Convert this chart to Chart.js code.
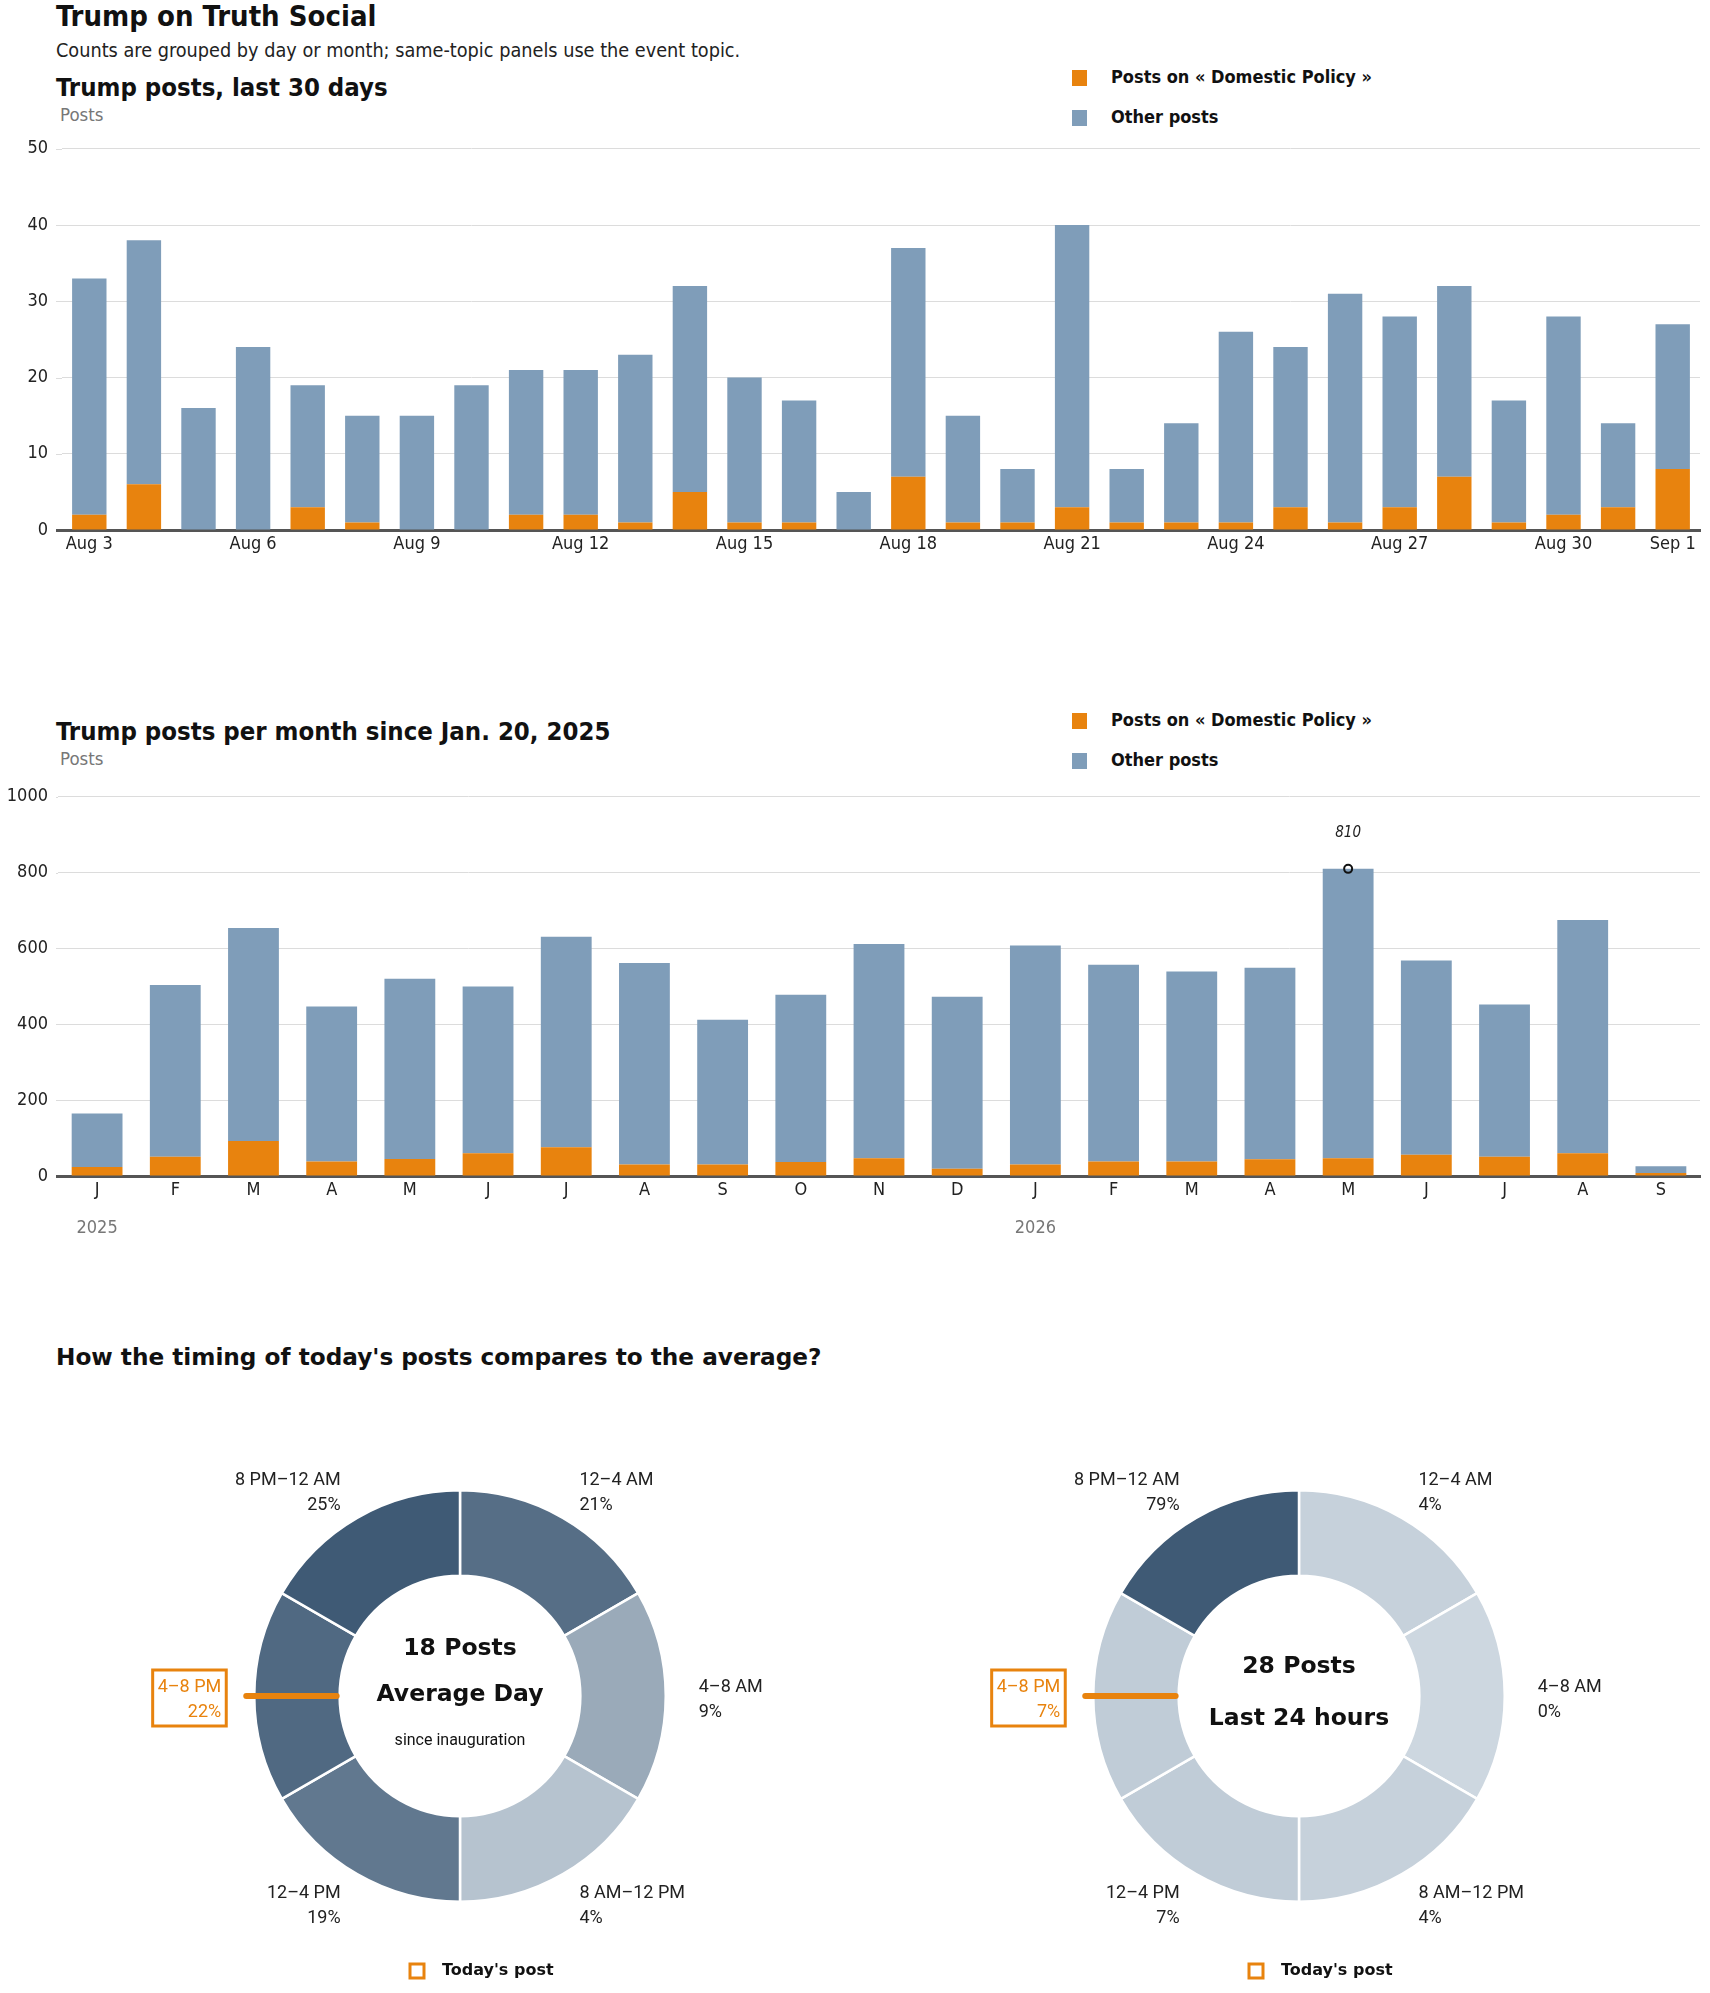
<!DOCTYPE html>
<html>
<head>
<meta charset="utf-8">
<script src="https://cdn.jsdelivr.net/npm/chart.js@4.4.1/dist/chart.umd.min.js"></script>
<style>
  body { margin: 0; background: #fff; width: 1710px; height: 1993px; position: relative; overflow: hidden; }
  .t { position: absolute; white-space: nowrap; color: #111; }
  .narrow { font-family: 'Liberation Sans Narrow', 'DejaVu Sans Condensed', 'Arial Narrow', sans-serif; }
  .heavy { font-family: 'DejaVu Sans', Lato, sans-serif; font-weight: bold; }
  canvas { position: absolute; }
  .sw { position: absolute; width: 15px; height: 16px; }
</style>
</head>
<body>

<div class="t narrow" style="left:56px; top:0px; font-size:29px; font-weight:bold; line-height:32px;">Trump on Truth Social</div>
<div class="t narrow" style="left:56px; top:39px; font-size:19.7px; line-height:24px; color:#222;">Counts are grouped by day or month; same-topic panels use the event topic.</div>

<div class="t narrow" style="left:56px; top:72px; font-size:25.5px; font-weight:bold; line-height:30px;">Trump posts, last 30 days</div>
<div class="t narrow" style="left:60px; top:104px; font-size:18.5px; line-height:22px; color:#777;">Posts</div>
<div class="sw" style="left:1072px; top:70px; background:#e8830e;"></div>
<div class="t narrow" style="left:1111px; top:66px; font-size:18px; font-weight:bold; line-height:22px;">Posts on « Domestic Policy »</div>
<div class="sw" style="left:1072px; top:110px; background:#7f9db9;"></div>
<div class="t narrow" style="left:1111px; top:106px; font-size:18px; font-weight:bold; line-height:22px;">Other posts</div>
<canvas id="daily" width="1710" height="446" style="left:0; top:124px; width:1710px; height:446px;"></canvas>

<div class="t narrow" style="left:56px; top:716px; font-size:25.5px; font-weight:bold; line-height:30px;">Trump posts per month since Jan. 20, 2025</div>
<div class="t narrow" style="left:60px; top:748px; font-size:18.5px; line-height:22px; color:#777;">Posts</div>
<div class="sw" style="left:1072px; top:713px; background:#e8830e;"></div>
<div class="t narrow" style="left:1111px; top:709px; font-size:18px; font-weight:bold; line-height:22px;">Posts on « Domestic Policy »</div>
<div class="sw" style="left:1072px; top:753px; background:#7f9db9;"></div>
<div class="t narrow" style="left:1111px; top:749px; font-size:18px; font-weight:bold; line-height:22px;">Other posts</div>
<canvas id="monthly" width="1710" height="473" style="left:0; top:776px; width:1710px; height:473px;"></canvas>

<div class="t heavy" style="left:56px; top:1343px; font-size:23.2px; line-height:28px;">How the timing of today's posts compares to the average?</div>
<canvas id="avgDonut" width="840" height="600" style="left:40px; top:1393px; width:840px; height:600px;"></canvas>
<canvas id="todayDonut" width="840" height="600" style="left:879px; top:1393px; width:840px; height:600px;"></canvas>

<script>
// ---- data ----
const days = ['Aug 3', 'Aug 4', 'Aug 5', 'Aug 6', 'Aug 7', 'Aug 8', 'Aug 9', 'Aug 10', 'Aug 11', 'Aug 12',
  'Aug 13', 'Aug 14', 'Aug 15', 'Aug 16', 'Aug 17', 'Aug 18', 'Aug 19', 'Aug 20', 'Aug 21', 'Aug 22',
  'Aug 23', 'Aug 24', 'Aug 25', 'Aug 26', 'Aug 27', 'Aug 28', 'Aug 29', 'Aug 30', 'Aug 31', 'Sep 1'];
const dailyDomestic = [2, 6, 0, 0, 3, 1, 0, 0, 2, 2, 1, 5, 1, 1, 0, 7, 1, 1, 3, 1, 1, 1, 3, 1, 3, 7, 1, 2, 3, 8];
const dailyOther = [31, 32, 16, 24, 16, 14, 15, 19, 19, 19, 22, 27, 19, 16, 5, 30, 14, 7, 37, 7, 13, 25, 21, 30, 25, 25, 16, 26, 11, 19];
const dailyTicks = [0, 10, 20, 30, 40, 50];

const months = ['J', 'F', 'M', 'A', 'M', 'J', 'J', 'A', 'S', 'O', 'N', 'D',
  'J', 'F', 'M', 'A', 'M', 'J', 'J', 'A', 'S'];
const monthDomestic = [24, 51, 92, 38, 45, 60, 76, 30, 30, 37, 47, 19, 30, 38, 38, 44, 47, 56, 51, 60, 8];
const monthOther = [141, 453, 562, 409, 475, 440, 555, 532, 382, 441, 565, 454, 578, 519, 501, 505, 763, 512, 401, 615, 18];
const monthTicks = [0, 200, 400, 600, 800, 1000];
const yearLabels = ['2025', '2026'];
const yearStartIndex = [0, 12];

const slots = ['12–4 AM', '4–8 AM', '8 AM–12 PM', '12–4 PM', '4–8 PM', '8 PM–12 AM'];
const slotSize = [1, 1, 1, 1, 1, 1];
const avgShare = [21, 9, 4, 19, 22, 25];
const todayShare = [4, 0, 4, 7, 7, 79];
const currentSlot = 4;

// ---- style ----
const NARROW = "'Liberation Sans Narrow', 'DejaVu Sans Condensed', 'Arial Narrow', sans-serif";
const HEAVY = "'DejaVu Sans', Lato, sans-serif";
const PLAIN = "Roboto, 'Liberation Sans', sans-serif";
const ORANGE = '#e8830e';
const BLUE = '#7f9db9';
const GRID = '#dcdcdc';
const PLOT_LEFT = 56;

// prolonga las líneas de la rejilla y el eje hasta el borde izquierdo
const gridLead = {
  id: 'gridLead',
  beforeDatasetsDraw(chart) {
    const { ctx, chartArea, scales: { y } } = chart;
    if (chartArea.left <= PLOT_LEFT) return;
    ctx.save();
    ctx.lineWidth = 1;
    ctx.strokeStyle = GRID;
    y.ticks.forEach(t => {
      if (t.value === 0) return;
      const py = Math.round(y.getPixelForValue(t.value)) + 0.5;
      ctx.beginPath(); ctx.moveTo(PLOT_LEFT, py); ctx.lineTo(chartArea.left, py); ctx.stroke();
    });
    ctx.restore();
  },
  afterDraw(chart) {
    const { ctx, chartArea } = chart;
    if (chartArea.left <= PLOT_LEFT) return;
    ctx.save();
    ctx.fillStyle = '#555';
    ctx.fillRect(PLOT_LEFT, chartArea.bottom - 1, chartArea.left - PLOT_LEFT + 1, 3);
    ctx.restore();
  }
};

function barOptions(ticks, yWidth, bottomPad, tickLabel) {
  return {
    responsive: false,
    devicePixelRatio: 1,
    animation: false,
    layout: { padding: { top: 17, right: 10, bottom: bottomPad, left: 0 } },
    plugins: { legend: { display: false }, tooltip: { enabled: false } },
    scales: {
      x: {
        stacked: true,
        grid: { display: false, drawTicks: false },
        border: { color: '#555', width: 3 },
        ticks: {
          autoSkip: false, maxRotation: 0, padding: 4,
          color: '#222', font: { family: NARROW, size: 18 },
          callback: tickLabel
        },
        afterFit: s => { s.height = 40; }
      },
      y: {
        stacked: true,
        min: 0, max: ticks[ticks.length - 1],
        afterBuildTicks: s => { s.ticks = ticks.map(v => ({ value: v })); },
        grid: { color: GRID, drawTicks: false },
        border: { display: false },
        ticks: {
          padding: yWidth - 48, color: '#222', font: { family: NARROW, size: 18 },
          callback: v => String(v)
        },
        afterFit: s => { s.width = yWidth; }
      }
    }
  };
}

// Gráfica diaria
new Chart(document.getElementById('daily'), {
  type: 'bar',
  data: {
    labels: days,
    datasets: [
      { label: 'Posts on « Domestic Policy »', data: dailyDomestic, backgroundColor: ORANGE, borderWidth: 0, categoryPercentage: 1, barPercentage: 0.63 },
      { label: 'Other posts', data: dailyOther, backgroundColor: BLUE, borderWidth: 0, categoryPercentage: 1, barPercentage: 0.63 }
    ]
  },
  options: barOptions(dailyTicks, 62, 0, function (v, i) {
    return (i % 3 === 0 || i === days.length - 1) ? days[i] : '';
  }),
  plugins: [gridLead]
});

// pico y años bajo el eje
const monthExtras = {
  id: 'monthExtras',
  afterDraw(chart) {
    const { ctx, scales: { x, y } } = chart;
    const totals = monthDomestic.map((d, i) => d + monthOther[i]);
    const peak = totals.indexOf(Math.max(...totals));
    const px = x.getPixelForValue(peak), py = y.getPixelForValue(totals[peak]);
    ctx.save();
    ctx.beginPath();
    ctx.arc(px, py, 4, 0, Math.PI * 2);
    ctx.lineWidth = 2;
    ctx.strokeStyle = '#111';
    ctx.stroke();
    ctx.fillStyle = '#222';
    ctx.font = 'italic 15px ' + NARROW;
    ctx.textAlign = 'center';
    ctx.textBaseline = 'middle';
    ctx.fillText(String(totals[peak]), px, py - 36);

    ctx.fillStyle = '#777';
    ctx.font = '18px ' + NARROW;
    yearLabels.forEach((yr, k) => {
      ctx.fillText(yr, x.getPixelForValue(yearStartIndex[k]), y.bottom + 52);
    });
    ctx.restore();
  }
};

// Gráfica mensual
new Chart(document.getElementById('monthly'), {
  type: 'bar',
  data: {
    labels: months,
    datasets: [
      { label: 'Posts on « Domestic Policy »', data: monthDomestic, backgroundColor: ORANGE, borderWidth: 0, categoryPercentage: 1, barPercentage: 0.65 },
      { label: 'Other posts', data: monthOther, backgroundColor: BLUE, borderWidth: 0, categoryPercentage: 1, barPercentage: 0.65 }
    ]
  },
  options: barOptions(monthTicks, 58, 33, function (v, i) { return months[i]; }),
  plugins: [gridLead, monthExtras]
});

// color por proporción
function shade(share, max) {
  const t = max ? share / max : 0;
  const lo = [205, 215, 224], hi = [63, 90, 117];
  const c = lo.map((l, k) => Math.round(l + (hi[k] - l) * t));
  return 'rgb(' + c.join(',') + ')';
}

const donutDecor = {
  id: 'donutDecor',
  afterDraw(chart, args, opts) {
    const { ctx } = chart;
    const meta = chart.getDatasetMeta(0);
    ctx.save();
    ctx.textBaseline = 'middle';
    meta.data.forEach((arc, i) => {
      const p = arc.getProps(['x', 'y', 'startAngle', 'endAngle', 'outerRadius', 'innerRadius'], true);
      const mid = (p.startAngle + p.endAngle) / 2;
      const r = p.outerRadius + 33;
      const ax = p.x + Math.cos(mid) * r;
      const ay = p.y + Math.sin(mid) * r + 4;
      const c = Math.cos(mid);
      ctx.textAlign = c > 0.01 ? 'left' : (c < -0.01 ? 'right' : 'center');
      ctx.font = '18px ' + PLAIN;
      const isNow = i === currentSlot;
      ctx.fillStyle = isNow ? ORANGE : '#222';
      const line2 = opts.shares[i] + '%';
      ctx.fillText(slots[i], ax, ay - 13);
      ctx.fillText(line2, ax, ay + 12);
      if (isNow) {
        const w = Math.max(ctx.measureText(slots[i]).width, ctx.measureText(line2).width);
        ctx.strokeStyle = ORANGE;
        ctx.lineWidth = 3;
        const left = c < 0 ? ax - w - 5 : ax - 5;
        ctx.strokeRect(left, ay - 30, w + 10, 56);
        ctx.beginPath();
        ctx.lineCap = 'round';
        ctx.lineWidth = 6;
        ctx.moveTo(p.x + Math.cos(mid) * (p.outerRadius + 8), p.y + Math.sin(mid) * (p.outerRadius + 8));
        ctx.lineTo(p.x + Math.cos(mid) * (p.innerRadius + 3), p.y + Math.sin(mid) * (p.innerRadius + 3));
        ctx.stroke();
      }
    });
    const cx = meta.data[0].x, cy = meta.data[0].y;
    ctx.textAlign = 'center';
    ctx.fillStyle = '#111';
    opts.center.forEach(l => {
      ctx.font = l.font;
      ctx.fillText(l.text, cx, cy + l.dy);
    });
    // leyenda
    ctx.strokeStyle = ORANGE;
    ctx.lineWidth = 3;
    ctx.lineCap = 'butt';
    ctx.strokeRect(cx - 50, 571, 14, 14);
    ctx.textAlign = 'left';
    ctx.font = 'bold 16px ' + HEAVY;
    ctx.fillStyle = '#111';
    ctx.fillText("Today's post", cx - 18, 578);
    ctx.restore();
  }
};

function donut(id, shares, center) {
  const max = Math.max(...shares);
  new Chart(document.getElementById(id), {
    type: 'doughnut',
    data: {
      labels: slots,
      datasets: [{
        data: slotSize,
        backgroundColor: shares.map(s => shade(s, max)),
        borderColor: '#fff',
        borderWidth: 2.5,
        hoverOffset: 0
      }]
    },
    options: {
      responsive: false,
      devicePixelRatio: 1,
      animation: false,
      cutout: '58.5%',
      layout: { padding: { left: 213, right: 213, top: 96, bottom: 90 } },
      plugins: {
        legend: { display: false },
        tooltip: { enabled: false },
        donutDecor: { shares: shares, center: center }
      }
    },
    plugins: [donutDecor]
  });
}

donut('avgDonut', avgShare, [
  { text: '18 Posts', dy: -47, font: 'bold 23.5px ' + HEAVY },
  { text: 'Average Day', dy: -1, font: 'bold 23.5px ' + HEAVY },
  { text: 'since inauguration', dy: 45, font: '16px ' + PLAIN }
]);
donut('todayDonut', todayShare, [
  { text: '28 Posts', dy: -29, font: 'bold 23.5px ' + HEAVY },
  { text: 'Last 24 hours', dy: 23, font: 'bold 23.5px ' + HEAVY }
]);
</script>
</body>
</html>
